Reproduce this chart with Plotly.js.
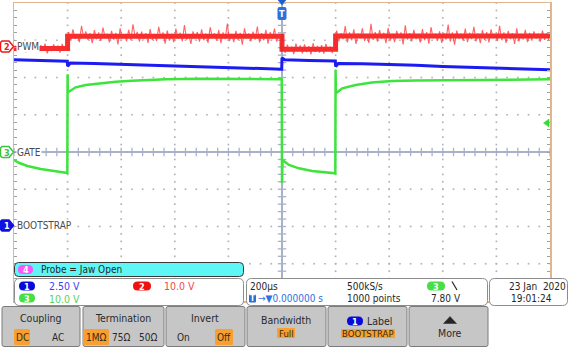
<!DOCTYPE html>
<html><head><meta charset="utf-8">
<script src="https://cdn.plot.ly/plotly-3.0.1.min.js"></script>
<style>html,body{margin:0;padding:0;background:#fff;overflow:hidden}#chart{width:571px;height:353px}</style>
</head><body><div id="chart"></div>
<script>
// ---------------- data ----------------
const channelNames = ['BOOTSTRAP', 'PWM', 'GATE'];     // ch1, ch2, ch3
const voltsPerDiv  = [2.5, 10.0, 10.0];
const groundDiv    = [-1.97, 2.83, 0];                 // ground marker position, divisions from centre
const timePerDiv   = 200;                              // µs/div
const triggerLevel = 7.80;                             // V on ch3

// ch1 BOOTSTRAP (V)
const bootT = [-1000, -900, -801, -800, -790, -700, -600, -500, -400, -300, -200, -100, -1, 0, 10, 100, 199, 200, 210, 300, 400, 500, 600, 700, 800, 900, 1000];
const bootV = [11.11, 11.07, 11.01, 10.68, 10.90, 10.87, 10.81, 10.75, 10.70, 10.64, 10.59, 10.54, 10.48, 11.24, 11.11, 11.07, 11.04, 10.66, 10.87, 10.85, 10.81, 10.74, 10.67, 10.60, 10.54, 10.48, 10.44];

// ch3 GATE (V)
const gateT = [-1000, -980, -950, -900, -850, -801, -800, -799, -795, -770, -732, -683, -620, -560, -433, -310, -1, 0, 2, 26, 63, 112, 163, 199, 200, 201, 225, 275, 335, 410, 500, 700, 1000];
const gateV = [-2.15, -2.95, -3.76, -4.56, -5.10, -5.64, 20.9, 16.1, 16.19, 17.37, 17.99, 18.44, 18.87, 19.14, 19.52, 19.68, 19.55, -8.3, -2.15, -3.49, -4.38, -5.10, -5.56, -5.72, 22.0, 15.76, 17.10, 17.99, 18.66, 19.06, 19.19, 19.38, 19.52];

// ch2 PWM: mean level (V) and noisy samples per segment (V)
const pwmStepT = [-1000, -800, -800, 0, 0, 200, 200, 1000];
const pwmStepV = [-0.5, -0.5, 2.8, 2.8, -0.7, -0.7, 2.85, 2.85];
const pwmSegStart = [-1000, -800, 0, 200];
const pwmSegEnd   = [-800, 0, 200, 1000];
const pwmNoiseA = [0.3, -1.4, 0.6, -1.0, 0.1, -1.7, 0.5, -0.9, 1.1, -1.3, 0.2, -1.5, 0.4, -1.1, 0.8, -1.8, 0.0, -1.2, 0.6, -0.8, 0.3, -1.6, 0.7, -1.0, 0.2];
const pwmNoiseB = [3.9, 1.6, 4.6, 2.1, 3.4, 1.2, 5.6, 2.3, 4.1, 1.8,
                   3.6, 0.9, 4.4, 2.0, 3.8, 1.5, 5.1, 2.4, 3.5, 1.1,
                   4.2, 1.9, 3.7, 0.6, 4.9, 2.2, 3.3, 1.4, 4.5, 1.7,
                   6.0, 2.5, 3.9, 1.3, 4.0, 2.0, 3.6, 1.0, 4.7, 1.8,
                   3.4, 1.5, 5.3, 2.3, 3.8, 0.8, 4.3, 1.6, 3.5, 1.2,
                   4.8, 2.1, 3.7, 1.4, 5.8, 1.9, 3.3, 0.7, 4.1, 2.2,
                   3.9, 1.3, 4.6, 1.7, 3.5, 1.0, 5.2, 2.4, 3.6, 1.6,
                   4.4, 0.9, 3.8, 2.0, 6.2, 1.5, 3.4, 1.2, 4.2, 1.8,
                   3.7, 0.5, 4.9, 2.3, 3.5, 1.4, 4.0, 1.9, 5.4, 1.1,
                   3.6, 1.7, 4.5, 0.8, 3.9, 2.1, 4.8, 1.3, 3.4, 1.6];
const pwmNoiseC = [0.2, -1.7, 0.5, -1.3, 0.0, -2.0, 0.8, -1.2, 0.3, -1.8, 0.6, -1.5, 0.1, -2.1, 0.9, -1.4, 0.2, -1.6, 0.4, -1.9, 0.7, -1.1, 0.0, -1.7, 0.3];
const pwmNoiseD = [4.3, 1.4, 3.6, 2.0, 5.5, 1.1, 3.8, 1.7, 4.6, 0.7,
                   3.5, 2.2, 4.9, 1.5, 3.3, 1.0, 6.1, 1.8, 3.9, 1.3,
                   4.4, 2.1, 3.7, 0.9, 5.0, 1.6, 3.4, 1.2, 4.2, 2.3,
                   3.8, 0.6, 5.7, 1.9, 3.6, 1.4, 4.5, 2.0, 3.3, 1.1,
                   4.7, 1.7, 3.9, 0.8, 5.2, 2.2, 3.5, 1.5, 4.1, 1.0,
                   3.6, 1.9, 5.9, 1.3, 3.8, 0.5, 4.3, 2.1, 3.4, 1.6,
                   4.8, 1.2, 3.7, 2.0, 5.3, 1.4, 3.5, 0.9, 4.4, 1.8,
                   3.9, 1.1, 4.6, 2.3, 3.3, 1.5, 5.6, 1.7, 3.8, 1.0,
                   4.2, 2.0, 3.6, 0.7, 4.9, 1.4, 3.4, 1.9, 4.5, 1.2,
                   3.7, 1.6, 4.1, 2.1, 3.5, 1.3, 4.3, 1.8, 3.6, 1.5];

// ---------------- figure ----------------
const W = 571, H = 353, L = 14, R = 550, T = 3, B = 301;
const FONT = 'DejaVu Sans Condensed, Liberation Sans Narrow, sans-serif';
const px = x => (x - L) / (R - L);
const py = y => (B - y) / (B - T);
const divToPix = d => B - (d + 4) / 8 * (B - T);
const chRange = i => [(-4 - groundDiv[i]) * voltsPerDiv[i], (4 - groundDiv[i]) * voltsPerDiv[i]];

// noise samples on the scope's sample grid
const noiseT = [], noiseV = [];
[pwmNoiseA, pwmNoiseB, pwmNoiseC, pwmNoiseD].forEach((seg, s) => {
  const dt = (pwmSegEnd[s] - pwmSegStart[s]) / seg.length;
  seg.forEach((v, i) => { noiseT.push(pwmSegStart[s] + (i + 0.5) * dt); noiseV.push(v); });
});

// graticule: dotted grid + centre cross-hair minor ticks
const gx = [], gy = [], hx = [], hy = [], vx = [], vy = [];
for (let r = -3; r <= 3; r++) { if (r === 0) continue; for (let k = -25; k <= 25; k++) { gx.push(k * timePerDiv / 5); gy.push(r); } }
for (let c = -4; c <= 4; c++) { if (c === 0) continue; for (let k = -20; k <= 20; k++) { gx.push(c * timePerDiv); gy.push(k / 5); } }
for (let k = -25; k <= 25; k++) { hx.push(k * timePerDiv / 5); hy.push(0); }
for (let k = -20; k <= 20; k++) { vx.push(0); vy.push(k / 5); }

const traces = [
  {x: gx, y: gy, mode: 'markers', hoverinfo: 'skip',
   marker: {symbol: 'square', size: 1.7, color: '#b4b4b4', line: {width: 0}}},
  {x: hx, y: hy, mode: 'markers', hoverinfo: 'skip',
   marker: {symbol: 'line-ns', size: 6, line: {width: 1.3, color: '#a9b1c9'}}},
  {x: vx, y: vy, mode: 'markers', hoverinfo: 'skip',
   marker: {symbol: 'line-ew', size: 6, line: {width: 1.3, color: '#a9b1c9'}}},
  {x: pwmStepT, y: pwmStepV, yaxis: 'y3', mode: 'lines', hoverinfo: 'skip',
   line: {color: 'rgba(240,24,24,0.9)', width: 5}},
  {x: noiseT, y: noiseV, yaxis: 'y3', mode: 'lines', hoverinfo: 'skip',
   line: {color: 'rgba(255,45,45,0.75)', width: 1.1}},
  {x: bootT, y: bootV, yaxis: 'y2', mode: 'lines', hoverinfo: 'skip',
   line: {color: '#1c1cf2', width: 3}},
  {x: gateT, y: gateV, yaxis: 'y4', mode: 'lines', hoverinfo: 'skip',
   line: {color: '#3ce43c', width: 2.5}}
];

const shapes = [], annotations = [];
const P = (x, y) => px(x) + ',' + py(y);
function rr(x0, y0, x1, y1, r, fill, line, lw) {
  const d = `M${P(x0 + r, y0)} L${P(x1 - r, y0)} Q${P(x1, y0)} ${P(x1, y0 + r)} L${P(x1, y1 - r)} Q${P(x1, y1)} ${P(x1 - r, y1)} L${P(x0 + r, y1)} Q${P(x0, y1)} ${P(x0, y1 - r)} L${P(x0, y0 + r)} Q${P(x0, y0)} ${P(x0 + r, y0)} Z`;
  shapes.push({type: 'path', xref: 'paper', yref: 'paper', path: d, fillcolor: fill,
               line: {color: line || fill, width: lw === undefined ? 1 : lw}, layer: 'above'});
}
function poly(pts, fill) {
  const d = 'M' + pts.map(p => P(p[0], p[1])).join(' L') + ' Z';
  shapes.push({type: 'path', xref: 'paper', yref: 'paper', path: d, fillcolor: fill, line: {color: fill, width: 0.5}, layer: 'above'});
}
function txt(s, x, y, color, size, anchor, bold, bg) {
  annotations.push({text: bold ? '<b>' + s + '</b>' : s, x: px(x), y: py(y), xref: 'paper', yref: 'paper',
    xanchor: anchor || 'left', yanchor: 'middle', showarrow: false, borderpad: 0,
    bgcolor: bg || 'rgba(0,0,0,0)',
    font: {family: FONT, size: size || 10, color: color || '#2a2a2a'}});
}
function pill(x0, y0, x1, y1, fill, s) {
  rr(x0, y0, x1, y1, (y1 - y0) / 2, fill, fill, 0);
  txt(s, (x0 + x1) / 2, (y0 + y1) / 2 + 0.5, '#ffffff', 9, 'center', true);
}

// ground tags on the left
const tagStyle = [
  {fill: '#1010e0', line: '#1010e0', num: '#ffffff'},
  {fill: '#ffffff', line: '#f01818', num: '#f01818'},
  {fill: '#ffffff', line: '#3cc43c', num: '#3cc43c'}
];
[1, 2, 0].forEach(i => {
  const y = divToPix(groundDiv[i]);
  const pts = [[2, y - 5.5], [9, y - 5.5], [13.5, y], [9, y + 5.5], [2, y + 5.5], [0.5, y + 4], [0.5, y - 4]];
  shapes.push({type: 'path', xref: 'paper', yref: 'paper', path: 'M' + pts.map(p => P(p[0], p[1])).join(' L') + ' Z',
    fillcolor: tagStyle[i].fill, line: {color: tagStyle[i].line, width: 1.5}, layer: 'above'});
  txt(String(i + 1), 6.5, y + 0.5, tagStyle[i].num, 9, 'center', true);
  txt(channelNames[i], 16, y, '#4a4a4a', 10, 'left', false, '#ffffff');
});

// trigger position marker (top) and trigger level marker (right)
const tx = L + (R - L) / 2;
poly([[tx - 4, 0], [tx + 4, 0], [tx, 5]], '#1d5fd0');
rr(tx - 4.5, 7, tx + 4.5, 20, 2, '#2d72da', '#2d72da', 0);
txt('T', tx, 13.8, '#ffffff', 9, 'center', true);
const tly = divToPix(groundDiv[2] + triggerLevel / voltsPerDiv[2]);
poly([[549, tly - 4], [549, tly + 4], [543.5, tly]], '#33dd33');

// info panels
rr(14.5, 262.5, 243.5, 276.5, 4, '#5ff6f6', '#3a3a3a', 1);
pill(18, 265, 33, 274, '#ff55ff', '4');
txt('Probe = Jaw Open', 40, 269.8, '#262626', 10);

rr(14.5, 278.5, 243.5, 305.5, 5, '#ffffff', '#8c8c8c', 1);
pill(19, 281.5, 35, 290.5, '#0a0ad8', '1');
txt(voltsPerDiv[0].toFixed(2) + ' V', 48, 286.3, '#3f3ff2', 10.5);
pill(133, 281.5, 151, 290.5, '#f01010', '2');
txt(voltsPerDiv[1].toFixed(1) + ' V', 163, 286.3, '#f24848', 10.5);
pill(19, 293.5, 35, 302.5, '#44e044', '3');
txt(voltsPerDiv[2].toFixed(1) + ' V', 48, 298.5, '#5cd05c', 10.5);

rr(246.5, 278.5, 487.5, 305.5, 5, '#ffffff', '#8c8c8c', 1);
txt(timePerDiv + 'µs', 249, 286.3, '#262626', 10);
rr(249, 294.5, 256, 302.5, 1, '#2f6fd8', '#2f6fd8', 0);
txt('T', 252.5, 298.8, '#ffffff', 8, 'center', true);
txt('→▼0.000000 s', 257, 298.5, '#3070e0', 10);
txt('500kS/s', 346, 286.3, '#262626', 10);
txt('1000 points', 346, 298.5, '#262626', 10);
pill(427, 281.5, 445, 290.5, '#44e044', '3');
shapes.push({type: 'line', xref: 'paper', yref: 'paper', x0: px(452), y0: py(281.5), x1: px(457), y1: py(290), line: {color: '#262626', width: 1.2}, layer: 'above'});
txt(triggerLevel.toFixed(2) + ' V', 430, 298.5, '#262626', 10);

rr(489.5, 278.5, 567.5, 305.5, 5, '#ffffff', '#8c8c8c', 1);
txt('23 Jan\u00a0\u00a02020', 508, 286.3, '#262626', 10);
txt('19:01:24', 510, 298.5, '#262626', 10);

// softkeys
const keys = [[2, 80], [83, 164], [166, 245], [247, 326], [328, 407], [409, 488]];
keys.forEach(k => rr(k[0], 306.5, k[1], 346.5, 2, '#c6c6c6', '#7c7c7c', 1));
const ORANGE = '#f7a031';
txt('Coupling', 41, 318, '#2a2a2a', 10.5, 'center');
rr(14, 329, 30, 345, 1.5, ORANGE, ORANGE, 0); txt('DC', 22, 337.3, '#3a2a10', 10, 'center');
txt('AC', 58, 337.3, '#2a2a2a', 10, 'center');
txt('Termination', 123, 318, '#2a2a2a', 10.5, 'center');
rr(83, 329, 109, 345, 1.5, ORANGE, ORANGE, 0); txt('1MΩ', 96, 337.3, '#3a2a10', 10, 'center');
txt('75Ω', 121, 337.3, '#2a2a2a', 10, 'center');
txt('50Ω', 148, 337.3, '#2a2a2a', 10, 'center');
txt('Invert', 205, 318, '#2a2a2a', 10.5, 'center');
txt('On', 183, 337.3, '#2a2a2a', 10, 'center');
rr(215, 329, 233, 345, 1.5, ORANGE, ORANGE, 0); txt('Off', 224, 337.3, '#3a2a10', 10, 'center');
txt('Bandwidth', 286, 320, '#2a2a2a', 10.5, 'center');
rr(277, 328, 295, 338, 0.5, ORANGE, ORANGE, 0); txt('Full', 286, 333.3, '#3a2a10', 9.5, 'center');
pill(347, 316.5, 363, 325.5, '#0a0ad8', '1');
txt('Label', 366, 321, '#2a2a2a', 10.5, 'left');
rr(341, 329, 395, 338, 0.5, ORANGE, ORANGE, 0); txt(channelNames[0], 368, 333.8, '#3a2a10', 9.5, 'center');
poly([[443.5, 323.5], [456.5, 323.5], [450, 316.5]], '#262626');
txt('More', 450, 333, '#2a2a2a', 10.5, 'center');

const TAN = '#dfb68e';
const layout = {
  width: W, height: H, autosize: false, showlegend: false,
  paper_bgcolor: '#ffffff', plot_bgcolor: '#ffffff',
  margin: {l: L, r: W - R, t: T, b: H - B, pad: 0},
  xaxis: {range: [-5 * timePerDiv, 5 * timePerDiv], dtick: timePerDiv, tick0: 0, showticklabels: false, ticks: '',
          showgrid: false, zeroline: true, zerolinecolor: '#a9b1c9', zerolinewidth: 2,
          showline: true, linecolor: TAN, linewidth: 1.5, mirror: true, fixedrange: true},
  yaxis: {range: [-4, 4], dtick: 1, tick0: 0, showticklabels: false,
          showgrid: false, zeroline: true, zerolinecolor: '#a9b1c9', zerolinewidth: 2,
          showline: true, linecolor: TAN, linewidth: 1.5, mirror: 'ticks',
          ticks: 'inside', ticklen: 3, tickcolor: '#a0a0a0', tickwidth: 1,
          minor: {dtick: 0.2, ticks: 'inside', ticklen: 3, tickcolor: '#a0a0a0', tickwidth: 1, showgrid: false},
          fixedrange: true},
  yaxis2: {overlaying: 'y', visible: false, range: chRange(0), fixedrange: true},
  yaxis3: {overlaying: 'y', visible: false, range: chRange(1), fixedrange: true},
  yaxis4: {overlaying: 'y', visible: false, range: chRange(2), fixedrange: true},
  shapes: shapes, annotations: annotations
};
Plotly.newPlot('chart', traces, layout, {displayModeBar: false, staticPlot: true});
</script>
</body></html>
